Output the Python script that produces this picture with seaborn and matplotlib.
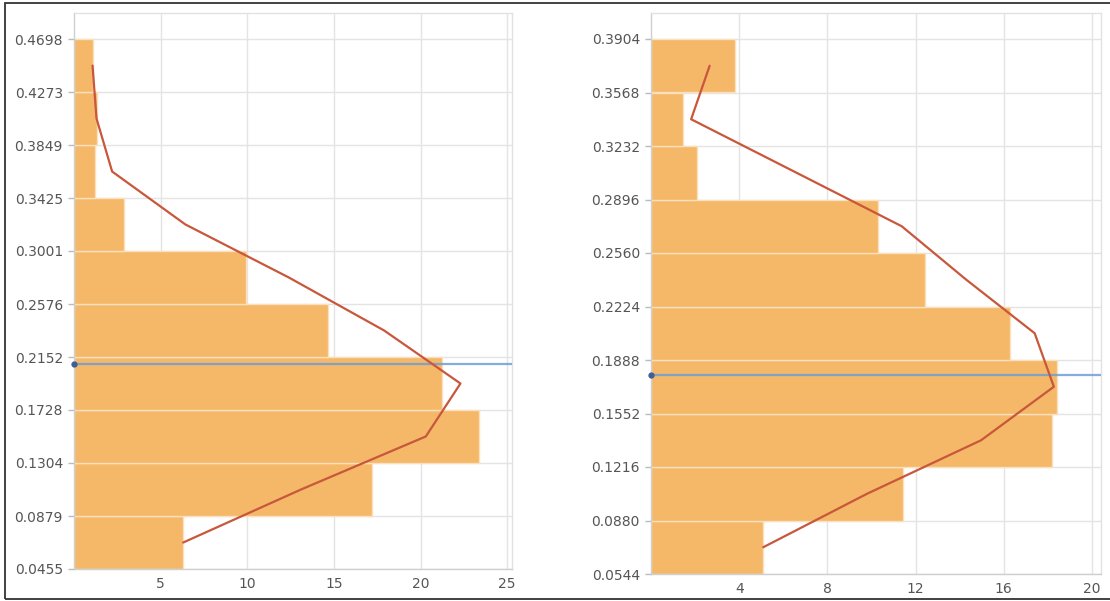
import numpy as np
import pandas as pd
import matplotlib
matplotlib.use("Agg")
import matplotlib.pyplot as plt
import seaborn as sns
from matplotlib.patches import Rectangle

# ---- data ----
left_ticks = [0.0455, 0.0879, 0.1304, 0.1728, 0.2152, 0.2576, 0.3001, 0.3425, 0.3849, 0.4273, 0.4698]
left_counts = [6.3, 17.2, 23.35, 21.25, 14.67, 9.93, 2.91, 1.22, 1.3, 1.08]
left_curve = [6.3, 13.1, 20.3, 22.3, 17.9, 12.4, 6.43, 2.2, 1.3, 1.07]
left_mean = 0.2094
left_xticks = [5, 10, 15, 20, 25]

right_ticks = [0.0544, 0.0880, 0.1216, 0.1552, 0.1888, 0.2224, 0.2560, 0.2896, 0.3232, 0.3568, 0.3904]
right_counts = [5.09, 11.44, 18.17, 18.42, 16.28, 12.42, 10.29, 2.09, 1.46, 3.8]
right_curve = [5.09, 9.8, 14.97, 18.27, 17.4, 14.3, 11.37, 6.6, 1.82, 2.66]
right_mean = 0.1794
right_xticks = [4, 8, 12, 16, 20]

BAR = "#F4B868"
LINE = "#C8573B"
BLUE = "#6C9FD9"
GRID = "#E4E4E4"
TXT = "#555555"

sns.set_theme(style="white")
plt.rcParams["font.family"] = ["DejaVu Sans"]

W, H = 1110, 601
fig = plt.figure(figsize=(W / 100, H / 100), dpi=100)

def px_axes(l, r, t, b):
    return fig.add_axes([l / W, 1 - b / H, (r - l) / W, (b - t) / H])

def draw(ax, ticks, counts, curve, mean, xticks, xmax, ymax):
    edges = np.array(ticks)
    mids = (edges[:-1] + edges[1:]) / 2
    df = pd.DataFrame({"mid": mids, "count": counts, "curve": curve})
    sns.barplot(data=df, x="count", y="mid", orient="y", native_scale=True,
                width=1.0, color=BAR, saturation=1, edgecolor="#FAE0BC",
                linewidth=1.0, errorbar=None, ax=ax, zorder=2)
    sns.lineplot(data=df, x="curve", y="mid", sort=False, estimator=None,
                 ax=ax, color=LINE, linewidth=1.6, zorder=4)
    ax.axhline(mean, color=BLUE, linewidth=1.6, alpha=0.85, zorder=3)
    ax.plot([0], [mean], marker="o", markersize=3.5, color="#3D5F95",
            zorder=5, clip_on=False)
    ax.set_xlim(0, xmax)
    ax.set_ylim(ticks[0], ymax)
    ax.set_yticks(ticks)
    ax.set_yticklabels([f"{t:.4f}" for t in ticks])
    ax.set_xticks(xticks)
    ax.set_xticklabels([str(x) for x in xticks])
    ax.set_xlabel("")
    ax.set_ylabel("")
    ax.grid(True, color=GRID, linewidth=1.0, zorder=0)
    ax.set_axisbelow(True)
    ax.tick_params(axis="y", length=4, width=1, color="#BBBBBB",
                   labelsize=10, labelcolor=TXT, pad=4, left=True)
    ax.tick_params(axis="x", length=0, labelsize=10, labelcolor=TXT, pad=6)
    for s in ["left", "bottom"]:
        ax.spines[s].set_visible(True)
        ax.spines[s].set_color("#CFCFCF")
        ax.spines[s].set_linewidth(1.0)
    for s in ["top", "right"]:
        ax.spines[s].set_visible(True)
        ax.spines[s].set_color("#E2E2E2")
        ax.spines[s].set_linewidth(1.0)

axL = px_axes(74, 512, 13, 569)
draw(axL, left_ticks, left_counts, left_curve, left_mean, left_xticks,
     (512 - 74) / 17.33, 0.0455 + (569 - 13) / 53.0 * 0.04243)

axR = px_axes(651, 1101, 13, 574)
draw(axR, right_ticks, right_counts, right_curve, right_mean, right_xticks,
     (1101 - 651) / 22.05, 0.0544 + (574 - 13) / 53.5 * 0.0336)

# outer frame (top, left, bottom; right edge lies off the canvas)
fig.patches.append(Rectangle((5 / W, 2.5 / H), (W + 20) / W, (H - 5.5) / H,
                             transform=fig.transFigure, fill=False,
                             edgecolor="#333333", linewidth=1.3))

fig.savefig("out.png", dpi=100)
